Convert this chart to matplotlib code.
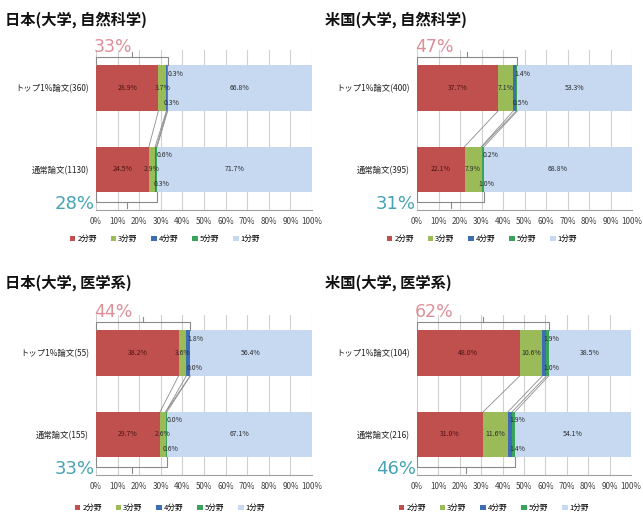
import matplotlib
matplotlib.use("Agg")
import matplotlib.pyplot as plt

plt.rcParams['font.family'] = ['Noto Sans CJK JP', 'DejaVu Sans']

# data: for each panel [top 1% papers, normal papers]
titles = ['日本(大学, 自然科学)', '米国(大学, 自然科学)', '日本(大学, 医学系)', '米国(大学, 医学系)']
bar_labels = [['トップ1%論文(360)', '通常論文(1130)'],
              ['トップ1%論文(400)', '通常論文(395)'],
              ['トップ1%論文(55)', '通常論文(155)'],
              ['トップ1%論文(104)', '通常論文(216)']]
series_names = ['2分野', '3分野', '4分野', '5分野', '1分野']
two_fields = [[28.9, 24.5], [37.7, 22.1], [38.2, 29.7], [48.0, 31.0]]
three_fields = [[3.7, 2.9], [7.1, 7.9], [3.6, 2.6], [10.6, 11.6]]
four_fields = [[0.3, 0.6], [1.4, 0.2], [1.8, 0.0], [1.9, 1.9]]
five_fields = [[0.3, 0.3], [0.5, 1.0], [0.0, 0.6], [1.0, 1.4]]
one_field = [[66.8, 71.7], [53.3, 68.8], [56.4, 67.1], [38.5, 54.1]]
top_share = ['33%', '47%', '44%', '62%']
normal_share = ['28%', '31%', '33%', '46%']

colors = ['#c0504d', '#9bbb59', '#3d6eb4', '#3aa35a', '#c6d9f1']

W, H = 643, 515
fig = plt.figure(figsize=(W / 100, H / 100), dpi=100)

# panel boxes in pixels: left, right, top, bottom
boxes = [(96, 312, 50, 210), (417, 632, 50, 210), (96, 312, 315, 475), (417, 631, 315, 475)]
title_pos = [(5, 20), (325, 20), (5, 283), (325, 283)]
legend_pos = [(165, 239), (482, 239), (170, 508), (494, 508)]

h = 0.56
for i in range(4):
    l, r, t, b = boxes[i]
    ax = fig.add_axes([l / W, 1 - b / H, (r - l) / W, (b - t) / H])
    vals = [two_fields[i], three_fields[i], four_fields[i], five_fields[i], one_field[i]]
    ys = [1, 0]
    left = [0, 0]
    handles = []
    bounds = []
    for k, v in enumerate(vals):
        bc = ax.barh(ys, v, left=left, height=h, color=colors[k], zorder=2)
        handles.append(bc)
        for j in range(2):
            x0 = left[j]
            if k == 0:
                ax.text(x0 + v[j] / 2, ys[j], f'{v[j]:.1f}%', ha='center', va='center',
                        fontsize=5, color='#4a1414', zorder=4)
            elif k == 1 or k == 4:
                ax.text(x0 + v[j] / 2, ys[j], f'{v[j]:.1f}%', ha='center', va='center',
                        fontsize=5, color='#2a2a2a', zorder=4)
            elif k == 2:
                ax.text(x0 + 0.5, ys[j] + h * 0.32, f'{v[j]:.1f}%', ha='left', va='center',
                        fontsize=5, color='#2a2a2a', zorder=4)
            else:
                ax.text(x0 - 1.5, ys[j] - h * 0.32, f'{v[j]:.1f}%', ha='left', va='center',
                        fontsize=5, color='#2a2a2a', zorder=4)
        left = [left[0] + v[0], left[1] + v[1]]
        if k < 4:
            bounds.append(list(left))

    # series lines between the bars
    for bd in bounds:
        ax.plot([bd[0], bd[1]], [1 - h / 2, h / 2], color='#8c8c8c', lw=0.6, zorder=3)

    # brackets
    cum_top = bounds[-1][0]
    cum_bot = bounds[-1][1]
    yt = 1 + h / 2 + 0.1
    ax.plot([0, 0, cum_top, cum_top], [1 + h / 2, yt, yt, 1 + h / 2], color='#8a8a8a', lw=0.8,
            zorder=3, clip_on=False)
    ax.plot([cum_top / 2, cum_top / 2], [yt, yt + 0.07], color='#8a8a8a', lw=0.8, clip_on=False)
    yb = -h / 2 - 0.12
    ax.plot([0, 0, cum_bot, cum_bot], [-h / 2, yb, yb, -h / 2], color='#8a8a8a', lw=0.8,
            zorder=3, clip_on=False)
    ax.plot([cum_bot / 2, cum_bot / 2], [yb, yb - 0.07], color='#8a8a8a', lw=0.8, clip_on=False)
    ax.text(-1, yt + 0.02, top_share[i], ha='left', va='bottom', fontsize=12.5,
            color='#dd8f98', family='DejaVu Sans', clip_on=False)
    ax.text(-0.5, yb - 0.02, normal_share[i], ha='right', va='center', fontsize=13,
            color='#45a3b3', family='DejaVu Sans', clip_on=False)

    ax.set_xlim(0, 100)
    ax.set_ylim(-0.5, 1.47)
    ax.set_xticks(range(0, 101, 10))
    ax.set_xticklabels([f'{x}%' for x in range(0, 101, 10)], fontsize=5.8, color='#404040')
    ax.set_yticks(ys)
    ax.set_yticklabels(bar_labels[i], fontsize=6, color='#222222')
    ax.tick_params(length=0, pad=5)
    ax.grid(axis='x', color='#d0d0d0', lw=0.8, zorder=0)
    ax.set_axisbelow(True)
    for s in ['top', 'right', 'left']:
        ax.spines[s].set_visible(False)
    ax.spines['bottom'].set_color('#a0a0a0')

    lx, ly = legend_pos[i]
    ax.legend(handles, series_names, loc='center', bbox_to_anchor=(lx / W, 1 - ly / H),
              bbox_transform=fig.transFigure, ncol=5, frameon=False, fontsize=5.5,
              handlelength=0.7, handleheight=0.7, columnspacing=1.8, handletextpad=0.3)

    tx, ty = title_pos[i]
    fig.text(tx / W, 1 - ty / H, titles[i], ha='left', va='center', fontsize=11,
             fontweight='bold', color='#111111')

fig.savefig('out.png', dpi=100)
